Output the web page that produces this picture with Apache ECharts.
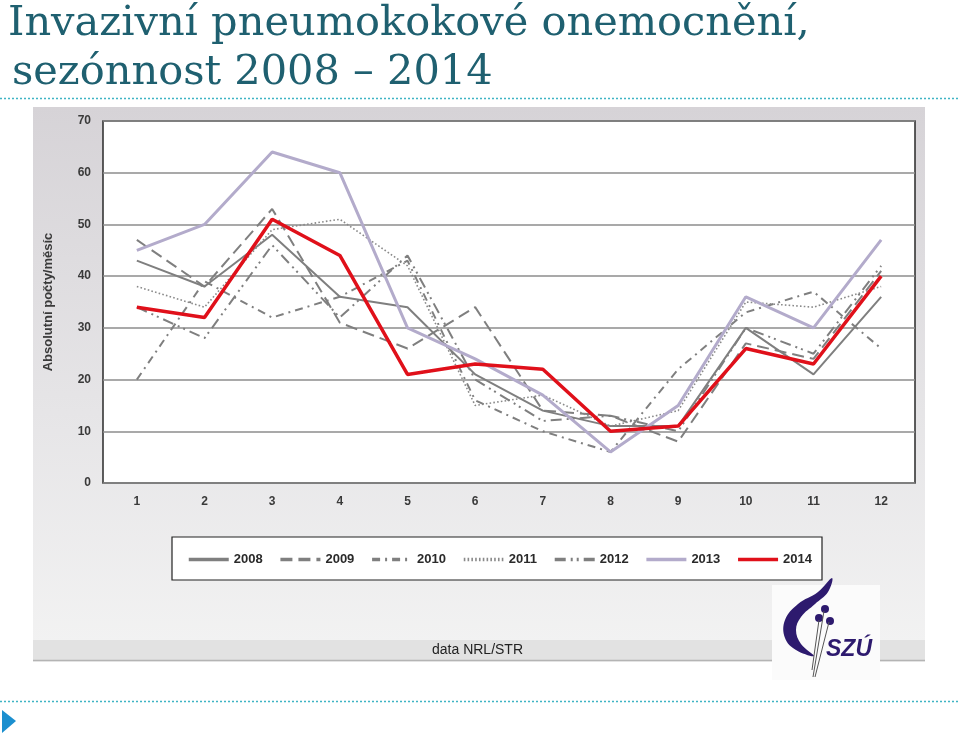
<!DOCTYPE html>
<html>
<head>
<meta charset="utf-8">
<script src="https://cdn.jsdelivr.net/npm/echarts@6/dist/echarts.min.js"></script>
<style>
html,body{margin:0;padding:0;background:#fff;}
#chart{width:960px;height:734px;}
</style>
</head>
<body>
<div id="chart"></div>
<script>
// ---- data ----
var months = ['1','2','3','4','5','6','7','8','9','10','11','12'];
var seriesNames = ['2008','2009','2010','2011','2012','2013','2014'];
var y2008 = [43, 38, 48, 36, 34, 21, 14, 11, 11, 30, 21, 36];
var y2009 = [47, 38, 53, 31, 26, 34, 14, 13, 8, 27, 24, 41];
var y2010 = [20, 39, 32, 36, 43, 16, 10, 6, 22, 33, 37, 26];
var y2011 = [38, 34, 49, 51, 42, 15, 17, 11, 14, 35, 34, 38];
var y2012 = [34, 28, 46, 32, 44, 20, 12, 13, 10, 30, 25, 42];
var y2013 = [45, 50, 64, 60, 30, 24, 17, 6, 15, 36, 30, 47];
var y2014 = [34, 32, 51, 44, 21, 23, 22, 10, 11, 26, 23, 40];
var yTicks = [0, 10, 20, 30, 40, 50, 60, 70];

var titleLine1 = 'Invazivní pneumokokové onemocnění,';
var titleLine2 = 'sezónnost 2008 – 2014';
var yAxisName = 'Absolutní počty/měsíc';
var sourceText = 'data NRL/STR';
var logoText = 'SZÚ';

var chart = echarts.init(document.getElementById('chart'), null, {renderer: 'canvas'});

var gray = '#7f7f7f';
function lineSeries(name, data, color, width, type, z) {
  return {
    name: name, type: 'line', data: data, symbol: 'none', z: z,
    lineStyle: {color: color, width: width, type: type, cap: 'butt'},
    itemStyle: {color: color},
    emphasis: {disabled: true},
    animation: false
  };
}

var option = {
  animation: false,
  backgroundColor: '#ffffff',
  textStyle: {fontFamily: 'Liberation Sans'},
  grid: {
    left: 103, right: 45, top: 121, bottom: 251,
    show: true, backgroundColor: '#ffffff', borderColor: '#2a2a2a', borderWidth: 1.5,
    containLabel: false
  },
  xAxis: {
    type: 'category', data: months, boundaryGap: true,
    axisLine: {show: false}, axisTick: {show: false},
    axisLabel: {color: '#3a3a3a', fontSize: 12, fontWeight: 'bold', margin: 13, fontFamily: 'Liberation Sans'},
    splitLine: {show: false}
  },
  yAxis: {
    type: 'value', min: yTicks[0], max: yTicks[yTicks.length - 1], interval: 10,
    name: yAxisName, nameLocation: 'middle', nameGap: 48, nameRotate: 90,
    nameTextStyle: {color: '#3a3a3a', fontSize: 13, fontWeight: 'bold', fontFamily: 'Liberation Sans'},
    axisLine: {show: false}, axisTick: {show: false},
    axisLabel: {color: '#3a3a3a', fontSize: 12, fontWeight: 'bold', margin: 12, fontFamily: 'Liberation Sans'},
    splitLine: {show: true, lineStyle: {color: '#8c8c8c', width: 1.5}}
  },
  legend: {
    left: 187, top: 553, orient: 'horizontal', padding: 0,
    itemWidth: 40, itemHeight: 10, itemGap: 16,
    data: seriesNames,
    selectedMode: false,
    itemStyle: {opacity: 0},
    lineStyle: {width: 3.5},
    textStyle: {color: '#2a2a2a', fontSize: 13, fontWeight: 'bold', fontFamily: 'Liberation Sans'}
  },
  series: [
    lineSeries(seriesNames[0], y2008, gray, 2, 'solid', 3),
    lineSeries(seriesNames[1], y2009, gray, 2, [12, 6], 3),
    lineSeries(seriesNames[2], y2010, gray, 2, [8, 5, 2, 5], 3),
    lineSeries(seriesNames[3], y2011, '#8a8a8a', 1.6, [1.6, 2.2], 3),
    lineSeries(seriesNames[4], y2012, gray, 2, [11, 5, 2, 4, 2, 5], 3),
    lineSeries(seriesNames[5], y2013, '#b3abcb', 3, 'solid', 4),
    lineSeries(seriesNames[6], y2014, '#e0101a', 3.5, 'solid', 5)
  ],
  graphic: [
    // title
    {type: 'text', left: 8, top: 3, z: 10,
      style: {text: titleLine1, fill: '#1f6070', font: '41.5px "DejaVu Serif"'}},
    {type: 'text', left: 12, top: 52, z: 10,
      style: {text: titleLine2, fill: '#1f6070', font: '41.5px "DejaVu Serif"'}},
    // dotted separators
    {type: 'line', z: 10, shape: {x1: 0, y1: 98.5, x2: 960, y2: 98.5},
      style: {stroke: '#3fb4c4', lineWidth: 1.5, lineDash: [2, 2]}},
    {type: 'line', z: 10, shape: {x1: 0, y1: 701.5, x2: 960, y2: 701.5},
      style: {stroke: '#3fb4c4', lineWidth: 1.5, lineDash: [2, 2]}},
    // bullet triangle
    {type: 'polygon', z: 10, shape: {points: [[2, 710], [16, 721], [2, 733]]},
      style: {fill: '#1b8fcf'}},
    // chart panel background
    {type: 'rect', z: -10, shape: {x: 33, y: 107, width: 892, height: 555},
      style: {fill: new echarts.graphic.LinearGradient(0, 0, 0, 1, [
        {offset: 0, color: '#d6d3d7'},
        {offset: 0.55, color: '#e6e5e7'},
        {offset: 1, color: '#f3f3f3'}
      ])}},
    // bottom strip
    {type: 'rect', z: -9, shape: {x: 33, y: 640, width: 892, height: 20},
      style: {fill: '#e2e2e2'}},
    {type: 'line', z: -8, shape: {x1: 33, y1: 660.5, x2: 925, y2: 660.5},
      style: {stroke: '#b4b4b4', lineWidth: 1.5}},
    // light area behind logo
    {type: 'rect', z: -7, shape: {x: 772, y: 585, width: 108, height: 95},
      style: {fill: '#fbfbfb'}},
    {type: 'text', left: 432, top: 643, z: 10,
      style: {text: sourceText, fill: '#222222', font: '14px "Liberation Sans"'}},
    // legend box
    {type: 'rect', z: 1, shape: {x: 172, y: 537, width: 650, height: 43},
      style: {fill: '#ffffff', stroke: '#222222', lineWidth: 1.2}},
    // logo
    {type: 'polygon', z: 10, shape: {smooth: 0.4, points: [[832, 578], [818, 592], [798, 604], [785, 620], [785, 638], [796, 650], [814, 656], [801, 644], [796, 630], [801, 617], [815, 604], [828, 592]]},
      style: {fill: '#2d1a6e'}},
    {type: 'circle', z: 10, shape: {cx: 825, cy: 609, r: 4}, style: {fill: '#2d1a6e'}},
    {type: 'circle', z: 10, shape: {cx: 819, cy: 618, r: 4}, style: {fill: '#2d1a6e'}},
    {type: 'circle', z: 10, shape: {cx: 830, cy: 621, r: 4}, style: {fill: '#2d1a6e'}},
    {type: 'line', z: 10, shape: {x1: 813, y1: 677, x2: 824, y2: 611}, style: {stroke: '#555', lineWidth: 1}},
    {type: 'line', z: 10, shape: {x1: 815, y1: 677, x2: 829, y2: 622}, style: {stroke: '#555', lineWidth: 1}},
    {type: 'line', z: 10, shape: {x1: 812, y1: 670, x2: 819, y2: 620}, style: {stroke: '#555', lineWidth: 1}},
    {type: 'text', left: 826, top: 638, z: 10,
      style: {text: logoText, fill: '#2d1a6e', font: 'italic bold 23px "Liberation Sans"'}}
  ]
};
chart.setOption(option);
</script>
</body>
</html>
